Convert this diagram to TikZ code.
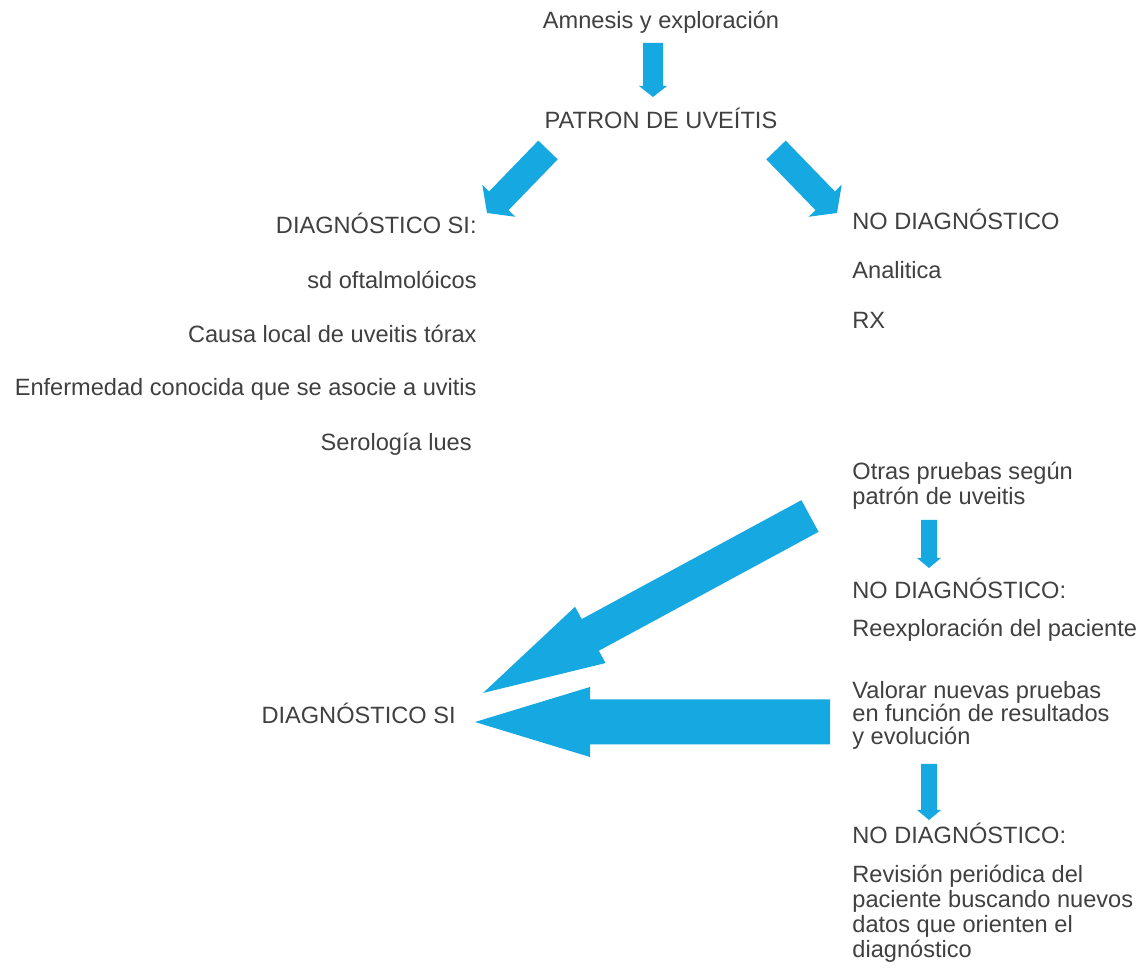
\documentclass[tikz,border=0pt]{standalone}
\usepackage{fontspec}
\setmainfont{Liberation Sans}
\usetikzlibrary{calc}
\definecolor{arrowblue}{RGB}{22,168,225}
\definecolor{txtgray}{RGB}{64,64,64}
\newcommand\blockarr[5]{%
  \coordinate (ba-c) at ($(#2)!#5!(#1)$);
  \fill[arrowblue] ($(#1)!#3!90:(#2)$) -- ($(ba-c)!#3!-90:(#1)$) -- ($(ba-c)!#4!-90:(#1)$) -- (#2) -- ($(ba-c)!#4!90:(#1)$) -- ($(ba-c)!#3!90:(#1)$) -- ($(#1)!#3!-90:(#2)$) -- cycle;}
\begin{document}
\begin{tikzpicture}[x=0.5pt,y={(0,-0.5pt)},
  txt/.style={inner sep=0pt,text=txtgray,font=\fontsize{11.8}{13}\selectfont},
  lcol/.style={txt,anchor=mid east},
  rcol/.style={txt,anchor=mid west}]
\useasboundingbox (0,0) rectangle (1142,977);
% top
\node[txt] (amn) at (661,22) {Amnesis y exploración};
\node[txt] (pat) at (661,118) {PATRON DE UVEÍTIS};
% left column
\node[lcol] (dsi) at (477,228) {DIAGNÓSTICO SI:};
\node[lcol] (l1) at (477,283) {sd oftalmolóicos};
\node[lcol] (l2) at (477,337) {Causa local de uveitis tórax};
\node[lcol] (l3) at (477,390) {Enfermedad conocida que se asocie a uvitis};
\node[lcol] (l4) at (472,445) {Serología lues};
% right column
\node[rcol] (nod) at (852,224) {NO DIAGNÓSTICO};
\node[rcol] (r1) at (852,273) {Analitica};
\node[rcol] (r2) at (852,323) {RX};
\node[rcol] (otr1) at (852,474) {Otras pruebas según};
\node[rcol] (otr2) at (852,499) {patrón de uveitis};
\node[rcol] (nod2) at (852,593) {NO DIAGNÓSTICO:};
\node[rcol] (reex) at (852,631) {Reexploración del paciente};
\node[rcol] (val1) at (852,693) {Valorar nuevas pruebas};
\node[rcol] (val2) at (852,716) {en función de resultados};
\node[rcol] (val3) at (852,739) {y evolución};
\node[rcol] (nod3) at (852,838) {NO DIAGNÓSTICO:};
\node[rcol] (rev1) at (852,877) {Revisión periódica del};
\node[rcol] (rev2) at (852,902) {paciente buscando nuevos};
\node[rcol] (rev3) at (852,927) {datos que orienten el};
\node[rcol] (rev4) at (852,952) {diagnóstico};
% bottom left
\node[lcol] (dsi2) at (456,718) {DIAGNÓSTICO SI};
% arrow end points
\coordinate (a1s) at (653,43);  \coordinate (a1e) at (653,97);
\coordinate (a2s) at (548,150); \coordinate (a2e) at (487,213);
\coordinate (a3s) at (776,150); \coordinate (a3e) at (837,213);
\coordinate (a4s) at (929,520); \coordinate (a4e) at (929,568);
\coordinate (a5s) at (810,516); \coordinate (a5e) at (483,693);
\coordinate (a6s) at (830,722); \coordinate (a6e) at (475,722);
\coordinate (a7s) at (929,764); \coordinate (a7e) at (929,820);
\blockarr{a1s}{a1e}{5pt}{7pt}{5.5pt}
\blockarr{a2s}{a2e}{6.75pt}{11.5pt}{8.5pt}
\blockarr{a3s}{a3e}{6.75pt}{11.5pt}{8.5pt}
\blockarr{a4s}{a4e}{4pt}{6pt}{5pt}
\blockarr{a5s}{a5e}{9pt}{16pt}{61pt}
\blockarr{a6s}{a6e}{11.25pt}{17.5pt}{57.5pt}
\blockarr{a7s}{a7e}{4pt}{6pt}{5pt}
\end{tikzpicture}
\end{document}
